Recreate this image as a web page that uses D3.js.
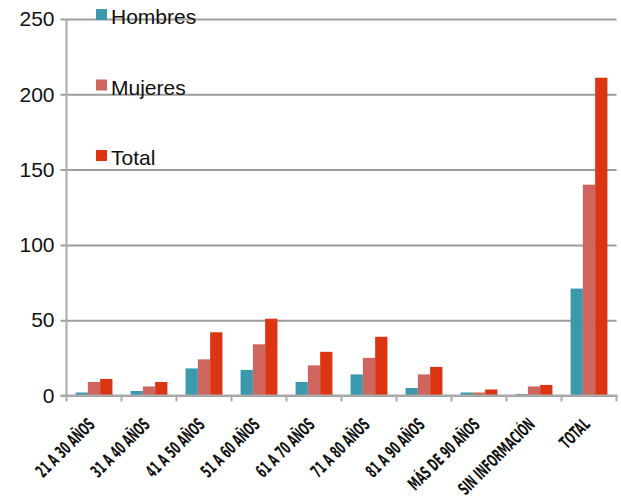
<!DOCTYPE html>
<html>
<head>
<meta charset="utf-8">
<script src="https://cdn.jsdelivr.net/npm/d3@7"></script>
<style>
  body { margin: 0; background: #fff; }
  svg { display: block; }
</style>
</head>
<body>
<script>
// Data
const categories = ["21 A 30 AÑOS", "31 A 40 AÑOS", "41 A 50 AÑOS", "51 A 60 AÑOS", "61 A 70 AÑOS",
                    "71 A 80 AÑOS", "81 A 90 AÑOS", "MÁS DE 90 AÑOS", "SIN INFORMACIÓN", "TOTAL"];
const seriesNames = ["Hombres", "Mujeres", "Total"];
const hombres = [2, 3, 18, 17, 9, 14, 5, 2, 1, 71];
const mujeres = [9, 6, 24, 34, 20, 25, 14, 2, 6, 140];
const total   = [11, 9, 42, 51, 29, 39, 19, 4, 7, 211];
const yTicks  = [0, 50, 100, 150, 200, 250];
const colors  = ["#3a99ad", "#cf655f", "#dc3513"];

const width = 621, height = 503;
const plotLeft = 66.5, plotRight = 616.5, plotTop = 19, plotBottom = 395.5;

const svg = d3.select("body").append("svg")
    .attr("width", width)
    .attr("height", height);

// Scales
const x0 = d3.scaleBand().domain(categories).range([plotLeft, plotRight]);
const x1 = d3.scaleBand().domain(seriesNames)
    .range([x0.bandwidth() * 0.165, x0.bandwidth() * 0.835]);
const y = d3.scaleLinear().domain([0, 250]).range([plotBottom, plotTop]);

const rows = categories.map((c, i) => ({
  cat: c,
  vals: [hombres[i], mujeres[i], total[i]]
}));

// Gridlines + y axis
const yAxis = d3.axisLeft(y).tickValues(yTicks)
    .tickSize(-(plotRight - plotLeft)).tickPadding(12);
const gy = svg.append("g")
    .attr("transform", "translate(" + plotLeft + ",0)")
    .call(yAxis);
gy.select(".domain").remove();
gy.selectAll(".tick line")
    .attr("x1", -6)
    .attr("stroke", "#9d9d9d")
    .attr("stroke-width", 2);
gy.selectAll(".tick text")
    .attr("font-family", "Liberation Sans, Arial, sans-serif")
    .attr("font-size", 21)
    .attr("fill", "#111");

// Bars
const groups = svg.append("g").selectAll("g")
    .data(rows)
    .enter().append("g")
    .attr("transform", d => "translate(" + x0(d.cat) + ",0)");

groups.selectAll("rect")
    .data(d => d.vals.map((v, j) => ({ s: seriesNames[j], v: v, j: j })))
    .enter().append("rect")
    .attr("x", d => x1(d.s))
    .attr("width", x1.bandwidth())
    .attr("y", d => y(d.v))
    .attr("height", d => y(0) - y(d.v))
    .attr("fill", d => colors[d.j]);

// Vertical axis line
svg.append("line")
    .attr("x1", plotLeft).attr("x2", plotLeft)
    .attr("y1", plotTop).attr("y2", plotBottom + 1)
    .attr("stroke", "#aaa").attr("stroke-width", 2);

// X axis line and boundary ticks
svg.append("line")
    .attr("x1", plotLeft - 6).attr("x2", plotRight + 1)
    .attr("y1", plotBottom).attr("y2", plotBottom)
    .attr("stroke", "#aaa").attr("stroke-width", 2);

const bounds = categories.map(c => x0(c)).concat([plotRight]);
svg.append("g").selectAll("line")
    .data(bounds)
    .enter().append("line")
    .attr("x1", d => d).attr("x2", d => d)
    .attr("y1", plotBottom).attr("y2", plotBottom + 6)
    .attr("stroke", "#aaa").attr("stroke-width", 2);

// X labels (condensed, rotated)
const xAxis = d3.axisBottom(x0).tickSize(0);
const gx = svg.append("g")
    .attr("transform", "translate(0," + plotBottom + ")")
    .call(xAxis);
gx.select(".domain").remove();
const labels = gx.selectAll(".tick text")
    .attr("font-family", "DejaVu Sans Condensed, DejaVu Sans, sans-serif")
    .attr("font-weight", "bold")
    .attr("font-size", 17.5)
    .attr("fill", "#111")
    .attr("text-anchor", "end")
    .attr("dy", 0)
    .attr("y", 0);

// squeeze glyphs so the longest label fits in ~100px
const longest = d3.max(labels.nodes(), n => n.getComputedTextLength());
const squeeze = 100 / longest;
labels.attr("transform", "translate(2,30) rotate(-45) scale(" + squeeze + ",1)");

// Legend
const legend = svg.append("g").selectAll("g")
    .data(seriesNames)
    .enter().append("g")
    .attr("transform", (d, i) => "translate(96," + (9 + i * 70.5) + ")");

legend.append("rect")
    .attr("width", 11).attr("height", 11)
    .attr("fill", (d, i) => colors[i]);

legend.append("text")
    .attr("x", 15).attr("y", 15)
    .attr("font-family", "Liberation Sans, Arial, sans-serif")
    .attr("font-size", 21)
    .attr("fill", "#111")
    .text(d => d);
</script>
</body>
</html>
